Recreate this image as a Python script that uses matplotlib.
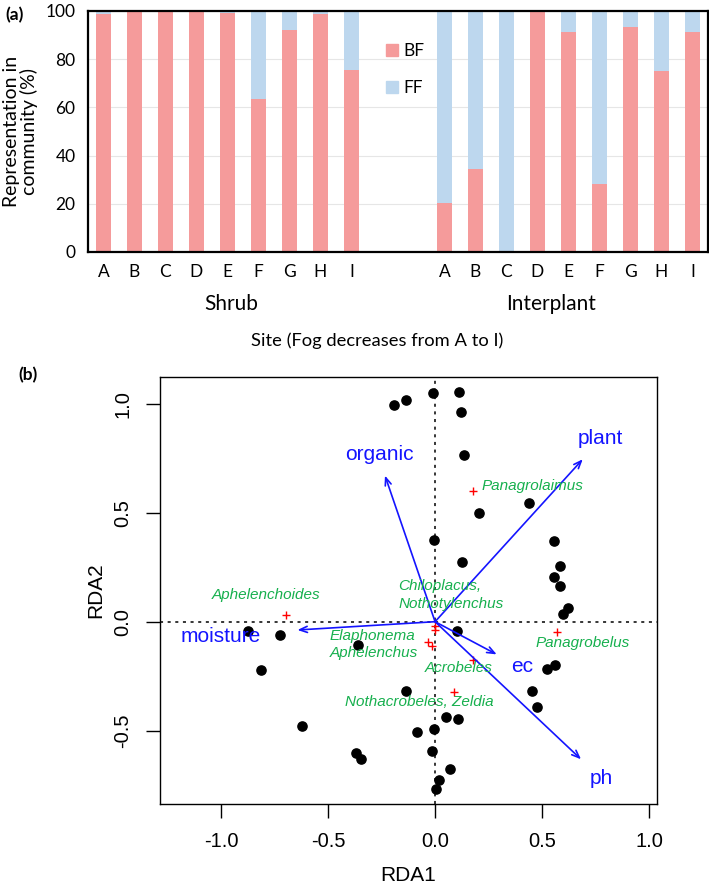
import matplotlib

matplotlib.use("Agg")

import matplotlib.pyplot as plt
from matplotlib.patches import Patch

plt.rcParams["axes.unicode_minus"] = False

# ---- panel (a): nematode feeding groups per site ----
SITES = ["A", "B", "C", "D", "E", "F", "G", "H", "I"]
SHRUB_BF = [98.6, 100, 100, 100, 99.2, 63.5, 92.3, 98.8, 75.7]
INTERPLANT_BF = [20.5, 34.3, 0, 100, 91.1, 28.4, 93.4, 75.0, 91.4]
SHRUB_FF = [100 - v for v in SHRUB_BF]
INTERPLANT_FF = [100 - v for v in INTERPLANT_BF]
GROUP_NAMES = ["Shrub", "Interplant"]

# ---- panel (b): RDA site scores ----
SITE_RDA1 = [-0.194, -0.136, -0.008, 0.114, 0.123, 0.137, 0.439, 0.204, -0.006,
             0.555, 0.128, 0.583, 0.556, 0.586, 0.619, 0.597, 0.104, 0.559,
             0.525, 0.452, 0.475, -0.136, 0.051, 0.109, -0.083, -0.006, -0.016,
             0.070, 0.020, 0.005, -0.875, -0.724, -0.813, -0.361, -0.620,
             -0.369, -0.348]
SITE_RDA2 = [0.993, 1.017, 1.050, 1.054, 0.960, 0.766, 0.544, 0.500, 0.373,
             0.369, 0.275, 0.254, 0.204, 0.165, 0.064, 0.035, -0.043, -0.200,
             -0.215, -0.316, -0.390, -0.316, -0.439, -0.446, -0.506, -0.492,
             -0.595, -0.676, -0.726, -0.767, -0.041, -0.063, -0.223, -0.108,
             -0.478, -0.604, -0.631]

# environmental vectors
ENV_NAMES = ["organic", "plant", "moisture", "ec", "ph"]
ENV_RDA1 = [-0.234, 0.690, -0.643, 0.288, 0.682]
ENV_RDA2 = [0.670, 0.745, -0.038, -0.150, -0.631]
ENV_LABEL_X = [-0.26, 0.771, -1.0, 0.408, 0.779]
ENV_LABEL_Y = [0.765, 0.841, -0.066, -0.206, -0.718]

# species scores
SPECIES_RDA1 = [-0.696, 0.179, 0.0, 0.0, -0.031, -0.013, 0.176, 0.090, 0.569]
SPECIES_RDA2 = [0.032, 0.601, -0.020, -0.040, -0.092, -0.111, -0.176, -0.324, -0.049]
SPECIES_LABELS = ["Aphelenchoides", "Panagrolaimus", "Chiloplacus,\nNothotylenchus",
                  "Elaphonema\nAphelenchus", "Acrobeles", "Nothacrobeles, Zeldia",
                  "Panagrobelus"]
SPECIES_LABEL_X = [-0.79, 0.218, -0.173, -0.494, 0.109, -0.073, 0.69]
SPECIES_LABEL_Y = [0.122, 0.622, 0.122, -0.103, -0.214, -0.370, -0.096]
SPECIES_LABEL_HA = ["center", "left", "left", "left", "center", "center", "center"]

BF_COLOR = "#F59B9B"
FF_COLOR = "#BDD7EE"
ENV_COLOR = "#1414FF"
SPECIES_COLOR = "#17B04E"


def plot_bars(fig):
    ax = fig.add_axes([0.124, 0.715, 0.8745, 0.2726])
    font = "Lato"

    positions = list(range(9)) + list(range(11, 20))
    bf = SHRUB_BF + INTERPLANT_BF
    ff = SHRUB_FF + INTERPLANT_FF

    ax.bar(positions, bf, width=0.5, color=BF_COLOR, zorder=2)
    ax.bar(positions, ff, width=0.5, bottom=bf, color=FF_COLOR, zorder=2)

    ax.set_xlim(-0.5, 19.5)
    ax.set_ylim(0, 100)
    ax.set_yticks([0, 20, 40, 60, 80, 100])
    ax.yaxis.grid(True, color="#E6E6E6", linewidth=0.8, zorder=0)
    ax.set_xticks(positions)
    ax.set_xticklabels(SITES + SITES)
    ax.tick_params(length=0, labelsize=12.5, pad=9)
    for label in ax.get_xticklabels() + ax.get_yticklabels():
        label.set_family(font)
    for spine in ax.spines.values():
        spine.set_linewidth(1.6)

    ax.set_ylabel("Representation in\ncommunity (%)", family=font, fontsize=14,
                  labelpad=5, linespacing=1.05)

    trans = ax.get_xaxis_transform()
    ax.text(4.13, -0.215, GROUP_NAMES[0], transform=trans, ha="center", va="center",
            family=font, fontsize=15)
    ax.text(14.45, -0.215, GROUP_NAMES[1], transform=trans, ha="center", va="center",
            family=font, fontsize=15)

    handles = [Patch(color=BF_COLOR, label="BF"), Patch(color=FF_COLOR, label="FF")]
    ax.legend(handles=handles, loc="upper left", bbox_to_anchor=(0.455, 0.93),
              frameon=False, handlelength=0.7, handleheight=0.7, handletextpad=0.3,
              labelspacing=1.2, prop={"family": font, "size": 12.5})

    fig.text(0.532, 0.615, "Site (Fog decreases from A to I)", ha="center",
             va="center", family=font, fontsize=13.2)
    fig.text(0.021, 0.983, "(a)", ha="center", va="center", family=font,
             fontsize=12.5, fontweight="bold")
    fig.text(0.04, 0.576, "(b)", ha="center", va="center", family=font,
             fontsize=12.5, fontweight="bold")


def plot_rda(fig):
    ax = fig.add_axes([0.2257, 0.0905, 0.701, 0.483])
    font = "Liberation Sans"

    ax.axhline(0, color="black", linestyle=(0, (2, 3)), linewidth=1.1, zorder=1)
    ax.axvline(0, color="black", linestyle=(0, (2, 3)), linewidth=1.1, zorder=1)

    ax.scatter(SITE_RDA1, SITE_RDA2, s=44, color="black", zorder=3)
    ax.scatter(SPECIES_RDA1, SPECIES_RDA2, marker="+", s=38, color="red",
               linewidths=1.0, zorder=4)

    for x, y, name, lx, ly in zip(ENV_RDA1, ENV_RDA2, ENV_NAMES, ENV_LABEL_X, ENV_LABEL_Y):
        ax.annotate("", xy=(x, y), xytext=(0, 0),
                    arrowprops=dict(arrowstyle="->,head_length=0.55,head_width=0.22",
                                    color=ENV_COLOR, lw=1.2, shrinkA=0, shrinkB=0),
                    zorder=5)
        ax.text(lx, ly, name, color=ENV_COLOR, ha="center", va="center",
                family=font, fontsize=15)

    for label, lx, ly, ha in zip(SPECIES_LABELS, SPECIES_LABEL_X, SPECIES_LABEL_Y,
                                 SPECIES_LABEL_HA):
        ax.text(lx, ly, label, color=SPECIES_COLOR, ha=ha, va="center",
                family=font, fontsize=11, style="italic", linespacing=1.3, zorder=6)

    ax.set_xlim(-1.285, 1.037)
    ax.set_ylim(-0.836, 1.122)
    ax.set_xticks([-1.0, -0.5, 0.0, 0.5, 1.0])
    ax.set_yticks([-0.5, 0.0, 0.5, 1.0])
    ax.tick_params(direction="out", length=10, width=1.0, labelsize=14.5, pad=10)
    for label in ax.get_xticklabels():
        label.set_family(font)
    for label in ax.get_yticklabels():
        label.set_family(font)
        label.set_rotation(90)
        label.set_va("center")
    for spine in ax.spines.values():
        spine.set_linewidth(1.0)

    ax.set_xlabel("RDA1", family=font, fontsize=15, labelpad=11)
    ax.set_ylabel("RDA2", family=font, fontsize=15, labelpad=6)


def main():
    fig = plt.figure(figsize=(7.09, 8.84), dpi=100)
    plot_bars(fig)
    plot_rda(fig)
    fig.savefig("out.png", dpi=100)
    plt.close(fig)


if __name__ == "__main__":
    main()
